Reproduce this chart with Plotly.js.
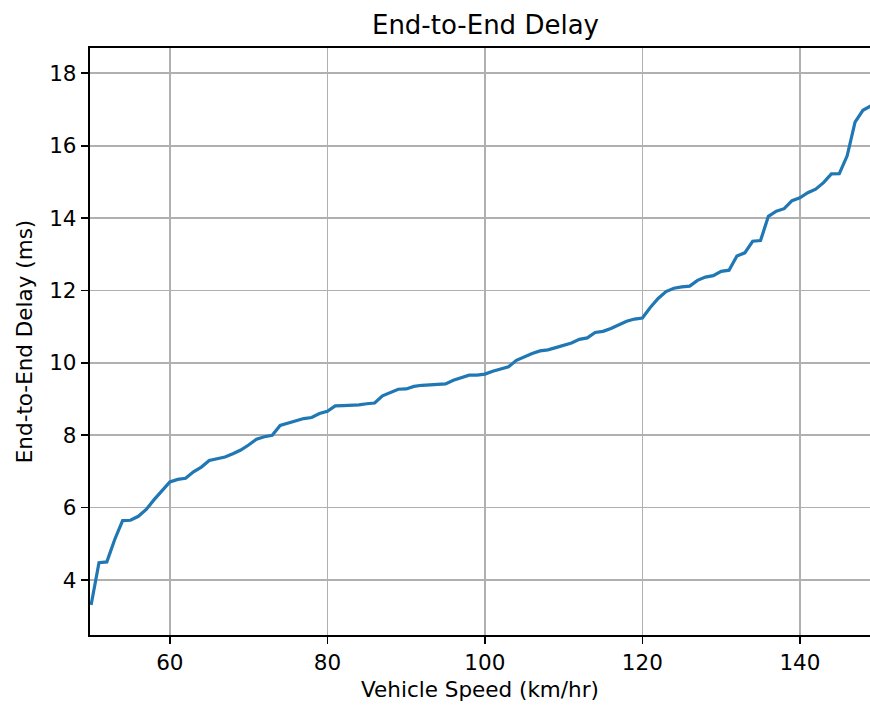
<!DOCTYPE html>
<html>
<head>
<meta charset="utf-8">
<script src="https://cdn.plot.ly/plotly-3.0.1.min.js"></script>
<style>
  html, body { margin: 0; padding: 0; overflow: hidden; background: #fff; }
  #chart { width: 870px; height: 707px; }
</style>
</head>
<body>
<div id="chart"></div>
<script>
// Vehicle speed (km/hr)
const speed = [
  50, 51, 52, 53, 54, 55, 56, 57, 58, 59,
  60, 61, 62, 63, 64, 65, 66, 67, 68, 69,
  70, 71, 72, 73, 74, 75, 76, 77, 78, 79,
  80, 81, 82, 83, 84, 85, 86, 87, 88, 89,
  90, 91, 92, 93, 94, 95, 96, 97, 98, 99,
  100, 101, 102, 103, 104, 105, 106, 107, 108, 109,
  110, 111, 112, 113, 114, 115, 116, 117, 118, 119,
  120, 121, 122, 123, 124, 125, 126, 127, 128, 129,
  130, 131, 132, 133, 134, 135, 136, 137, 138, 139,
  140, 141, 142, 143, 144, 145, 146, 147, 148, 149
];
// End-to-end delay (ms)
const delay = [
  3.31, 4.48, 4.50, 5.12, 5.64, 5.65, 5.76, 5.95, 6.22, 6.46,
  6.71, 6.78, 6.81, 6.99, 7.12, 7.30, 7.35, 7.40, 7.49, 7.59,
  7.73, 7.89, 7.96, 8.00, 8.27, 8.33, 8.39, 8.46, 8.49, 8.60,
  8.66, 8.81, 8.82, 8.82, 8.84, 8.87, 8.89, 9.09, 9.18, 9.27,
  9.28, 9.35, 9.38, 9.39, 9.41, 9.42, 9.52, 9.58, 9.66, 9.66,
  9.69, 9.77, 9.82, 9.89, 10.07, 10.17, 10.26, 10.33, 10.36, 10.42,
  10.49, 10.55, 10.65, 10.69, 10.84, 10.87, 10.95, 11.04, 11.15, 11.21,
  11.24, 11.53, 11.78, 11.97, 12.06, 12.10, 12.12, 12.28, 12.37, 12.41,
  12.53, 12.56, 12.95, 13.04, 13.36, 13.38, 14.05, 14.19, 14.26, 14.48,
  14.56, 14.70, 14.80, 14.98, 15.22, 15.23, 15.72, 16.65, 16.98, 17.10
];
const xTicks = [60, 80, 100, 120, 140];
const yTicks = [4, 6, 8, 10, 12, 14, 16, 18];

const FONT = 'DejaVu Sans, sans-serif';

const trace = {
  x: speed,
  y: delay,
  type: 'scatter',
  mode: 'lines',
  line: { color: '#1f77b4', width: 3.2 },
  hoverinfo: 'skip'
};

const layout = {
  width: 870,
  height: 707,
  margin: { l: 90, r: 0, t: 48, b: 72, pad: 0 },
  paper_bgcolor: '#ffffff',
  plot_bgcolor: '#ffffff',
  showlegend: false,
  font: { family: FONT, color: '#000', size: 21.5 },
  title: {
    text: 'End-to-End Delay',
    font: { family: FONT, size: 26, color: '#000' },
    xref: 'container', x: 0.558, xanchor: 'center',
    yref: 'container', y: 0.965, yanchor: 'middle'
  },
  xaxis: {
    range: [49.86, 148.9],
    tickvals: xTicks,
    ticktext: xTicks.map(String),
    ticks: 'outside', ticklen: 7.5, tickwidth: 1.7, tickcolor: '#000',
    tickfont: { family: FONT, size: 21.5, color: '#000' },
    showgrid: true, gridcolor: '#b0b0b0', gridwidth: 1.7,
    zeroline: false,
    showline: true, linecolor: '#000', linewidth: 1.7, mirror: true,
    title: { text: 'Vehicle Speed (km/hr)', font: { family: FONT, size: 21.5, color: '#000' }, standoff: 8 },
    automargin: false,
    fixedrange: true
  },
  yaxis: {
    range: [2.48, 18.70],
    tickvals: yTicks,
    ticktext: yTicks.map(String),
    ticks: 'outside', ticklen: 7.5, tickwidth: 1.7, tickcolor: '#000',
    tickfont: { family: FONT, size: 21.5, color: '#000' },
    showgrid: true, gridcolor: '#b0b0b0', gridwidth: 1.7,
    zeroline: false,
    showline: true, linecolor: '#000', linewidth: 1.7, mirror: false,
    title: { text: 'End-to-End Delay (ms)', font: { family: FONT, size: 21.5, color: '#000' }, standoff: 10 },
    automargin: false,
    fixedrange: true
  }
};

Plotly.newPlot('chart', [trace], layout, { staticPlot: true, displayModeBar: false });
</script>
</body>
</html>
